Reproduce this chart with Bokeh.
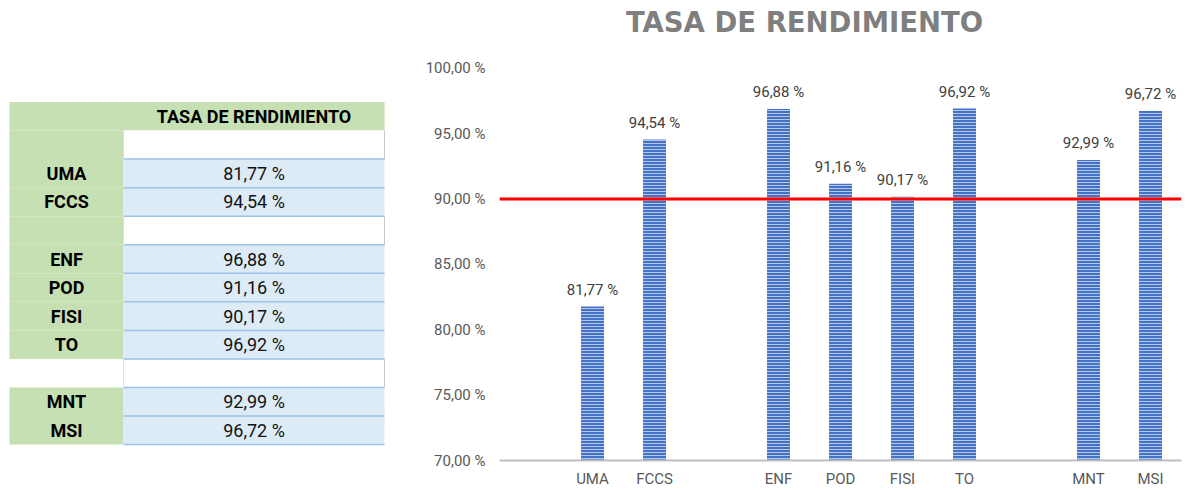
from bokeh.plotting import figure
from bokeh.layouts import row
from bokeh.models import Range1d, FixedTicker, Span, ColumnDataSource
from bokeh.core.properties import value
from bokeh.embed import file_html
from bokeh.resources import INLINE

# ---------------- data ----------------
categories = ["", "UMA", "FCCS", "", "ENF", "POD", "FISI", "TO", "", "MNT", "MSI"]
rendimiento = [None, 81.77, 94.54, None, 96.88, 91.16, 90.17, 96.92, None, 92.99, 96.72]
y_ticks = [70, 75, 80, 85, 90, 95, 100]
objetivo = 90
titulo = "TASA DE RENDIMIENTO"
table_header = "TASA DE RENDIMIENTO"


def fmt(v):
    return f"{v:.2f} %".replace(".", ",")


FONT = "Roboto"
TXT = "#595959"
H = 490
BOTTOM = 28

# ---------------- table (left) ----------------
t = figure(width=392, height=H, x_range=Range1d(1, 393), y_range=Range1d(12.058, -4.056),
           output_backend="svg", toolbar_location=None, min_border=0, min_border_bottom=BOTTOM)
t.axis.visible = False
t.grid.visible = False
t.outline_line_color = None

c_left, c_mid, c_right = 10, 124, 385
GREEN = "#c6e0b4"
BLUE = "#ddebf7"
BLUE_LINE = "#9dc3e6"

# header
t.quad(left=[c_left], right=[c_right], top=[-0.5], bottom=[0.5], fill_color=GREEN, line_color=None)
t.text(x=[(c_mid + c_right) / 2], y=[0], text=[table_header], text_align="center", text_baseline="middle",
       text_font=value(FONT), text_font_style="bold", text_font_size="18px", text_color="#000000")

rows = list(range(1, len(categories) + 1))
blank_seen = 0
lab_t, lab_b = [], []
blue_t, blue_b = [], []
white_t, white_b = [], []
for i, (cat, v) in enumerate(zip(categories, rendimiento)):
    r = rows[i]
    if cat == "":
        blank_seen += 1
        green = blank_seen < 3
        white_t.append(r - 0.5)
        white_b.append(r + 0.5)
    else:
        green = True
        blue_t.append(r - 0.5)
        blue_b.append(r + 0.5)
    if green:
        lab_t.append(r - 0.5)
        lab_b.append(r + 0.5)

t.quad(left=c_left, right=c_mid, top=lab_t, bottom=lab_b, fill_color=GREEN, line_color=None)
t.quad(left=c_mid, right=c_right, top=blue_t, bottom=blue_b, fill_color=BLUE, line_color=None)
t.quad(left=c_mid, right=c_right, top=white_t, bottom=white_b, fill_color="#ffffff", line_color=None)
ys = sorted(set(blue_t + blue_b))
t.segment(x0=c_mid, x1=c_right, y0=ys, y1=ys, line_color=BLUE_LINE, line_width=1.5)
t.segment(x0=c_right, x1=c_right, y0=white_t, y1=white_b, line_color="#c8c8c8", line_width=1)
t.segment(x0=c_mid, x1=c_mid, y0=white_t, y1=white_b, line_color="#e0e0e0", line_width=1)

lab_rows = [rows[i] for i, c in enumerate(categories) if c != ""]
lab_txt = [c for c in categories if c != ""]
val_txt = [fmt(v) for v in rendimiento if v is not None]
t.text(x=(c_left + c_mid) / 2, y=lab_rows, text=lab_txt, text_align="center", text_baseline="middle",
       text_font=value(FONT), text_font_style="bold", text_font_size="18px", text_color="#000000")
t.text(x=(c_mid + c_right) / 2, y=lab_rows, text=val_txt, text_align="center", text_baseline="middle",
       text_font=value(FONT), text_font_size="18px", text_color="#111111")

# ---------------- chart (right) ----------------
n = len(categories)
idx = [i for i, v in enumerate(rendimiento) if v is not None]
src = ColumnDataSource(dict(
    x=[i + 0.5 for i in idx],
    top=[rendimiento[i] for i in idx],
    label=[fmt(rendimiento[i]) for i in idx],
))

p = figure(width=790, height=H, x_range=Range1d(0, n), y_range=Range1d(70, 105.18),
           output_backend="svg", toolbar_location=None,
           min_border_left=107, min_border_right=1, min_border_top=0, min_border_bottom=BOTTOM)
p.outline_line_color = None
p.grid.visible = False

p.vbar(x="x", top="top", bottom=70, width=0.37, source=src, fill_color="#4472c4", line_color=None,
       hatch_pattern="horizontal_line", hatch_color="#b4c7e7", hatch_scale=3, hatch_weight=1)

p.add_layout(Span(location=objetivo, dimension="width", line_color="#ff0000", line_width=3))

p.text(x="x", y="top", text="label", source=src, text_align="center", text_baseline="bottom",
       y_offset=-8, text_font=value(FONT), text_font_size="15px", text_color="#404040")

p.text(x=[4.92], y=[103.5], text=[titulo], text_align="center", text_baseline="middle",
       text_font=value("DejaVu Sans"), text_font_style="bold", text_font_size="27.5px", text_color="#7f7f7f")

p.yaxis.ticker = FixedTicker(ticks=y_ticks)
p.yaxis.major_label_overrides = {t_: fmt(t_) for t_ in y_ticks}
p.yaxis.axis_line_color = None
p.yaxis.major_tick_line_color = None
p.yaxis.minor_tick_line_color = None
p.yaxis.major_tick_out = 0
p.yaxis.minor_tick_out = 0
p.yaxis.major_label_standoff = 14
p.yaxis.major_label_text_font = FONT
p.yaxis.major_label_text_font_size = "15px"
p.yaxis.major_label_text_color = TXT

p.xaxis.ticker = FixedTicker(ticks=[i + 0.5 for i in idx])
p.xaxis.major_label_overrides = {i + 0.5: categories[i] for i in idx}
p.xaxis.axis_line_color = "#bfbfbf"
p.xaxis.axis_line_width = 2
p.xaxis.major_tick_line_color = None
p.xaxis.minor_tick_line_color = None
p.xaxis.major_tick_out = 0
p.xaxis.minor_tick_out = 0
p.xaxis.major_label_standoff = 9
p.xaxis.major_label_text_font = FONT
p.xaxis.major_label_text_font_size = "15px"
p.xaxis.major_label_text_color = TXT

layout = row(t, p, spacing=0)
open("out.html", "w").write(file_html(layout, INLINE))
